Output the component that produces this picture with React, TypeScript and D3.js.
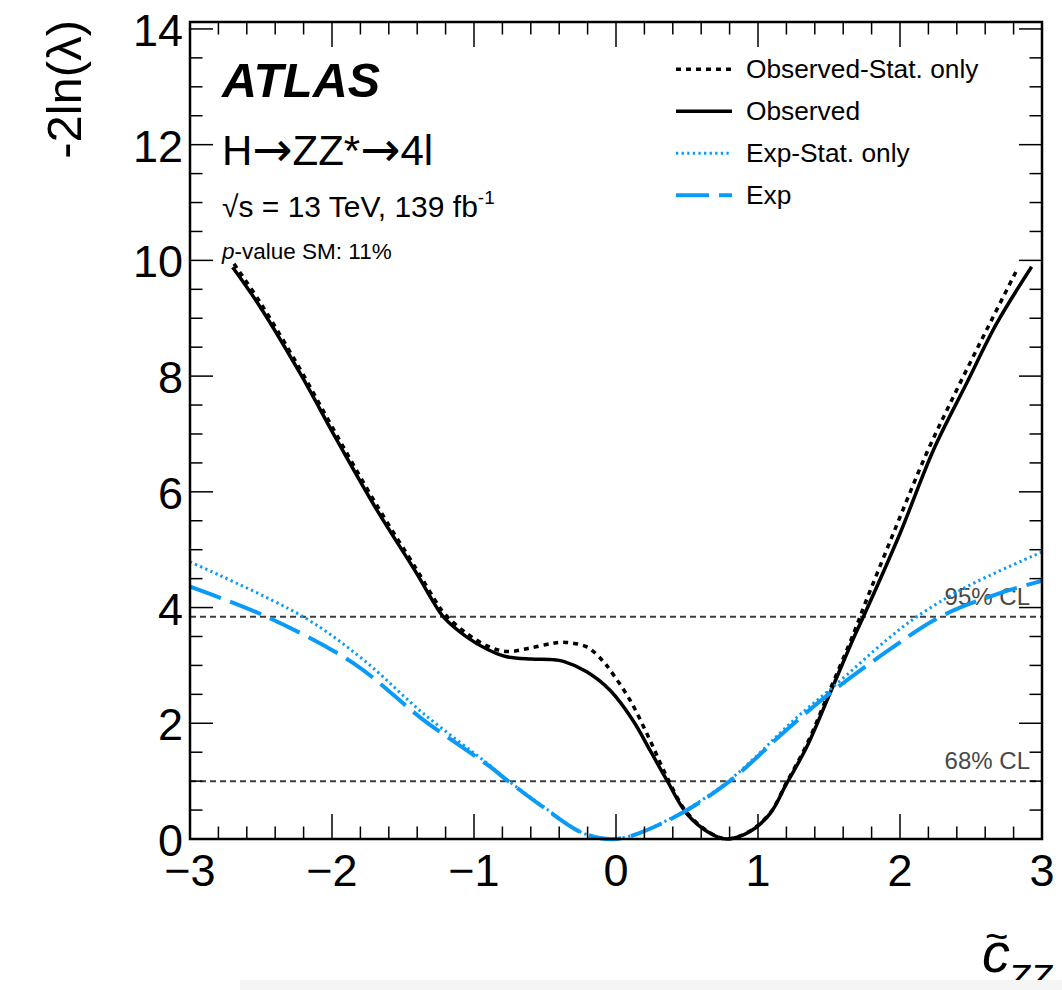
import React from 'react';
import * as d3 from 'd3';

// Observed (solid)
const obsX = [-2.70, -2.507, -2.225, -1.967, -1.697, -1.404, -1.287, -1.216, -1.05, -0.90, -0.77, -0.60, -0.45, -0.37, -0.206, -0.042, 0.122, 0.24, 0.357, 0.498, 0.662, 0.78, 0.944, 1.085, 1.202, 1.343, 1.507, 1.678, 1.742, 2.0, 2.235, 2.47, 2.681, 2.927];
const obsY = [9.88, 9.20, 8.05, 6.90, 5.74, 4.59, 4.10, 3.84, 3.49, 3.27, 3.15, 3.11, 3.10, 3.07, 2.89, 2.57, 2.04, 1.53, 1.02, 0.44, 0.10, 0.0, 0.13, 0.44, 0.96, 1.59, 2.52, 3.50, 3.84, 5.28, 6.72, 7.88, 8.91, 9.89];

// Observed - Stat. only (black dotted)
const obsStatX = [-2.69, -2.50, -2.22, -1.96, -1.69, -1.40, -1.28, -1.21, -1.05, -0.90, -0.77, -0.606, -0.45, -0.371, -0.206, -0.09, -0.042, 0.099, 0.239, 0.357, 0.498, 0.662, 0.78, 0.944, 1.085, 1.202, 1.343, 1.507, 1.678, 1.754, 1.953, 2.188, 2.399, 2.61, 2.822];
const obsStatY = [9.94, 9.25, 8.10, 6.95, 5.79, 4.64, 4.15, 3.90, 3.55, 3.33, 3.24, 3.30, 3.38, 3.40, 3.32, 3.07, 2.92, 2.40, 1.71, 1.08, 0.46, 0.11, 0.0, 0.14, 0.45, 0.98, 1.63, 2.58, 3.58, 4.07, 5.28, 6.67, 7.76, 8.80, 9.83];

// Expected (blue dashed)
const expX = [-3.0, -2.46, -1.85, -1.357, -0.887, -0.77, -0.512, -0.23, 0.0, 0.357, 0.78, 1.202, 1.507, 1.953, 2.282, 2.704, 3.0];
const expY = [4.36, 3.84, 3.04, 2.06, 1.25, 1.02, 0.55, 0.10, 0.0, 0.31, 0.96, 1.89, 2.52, 3.32, 3.84, 4.25, 4.46];

// Expected - Stat. only (blue dotted)
const expStatX = [-3.0, -2.202, -1.78, -1.357, -0.887, -0.77, -0.512, -0.23, 0.0, 0.357, 0.78, 1.202, 1.30, 1.53, 1.906, 2.117, 2.47, 3.0];
const expStatY = [4.79, 3.84, 3.10, 2.17, 1.27, 1.03, 0.56, 0.10, 0.0, 0.32, 0.98, 1.94, 2.16, 2.63, 3.44, 3.84, 4.36, 4.96];

const clLevels = [1.0, 3.84];
const clLabels = ['68% CL', '95% CL'];
const xMajor = [-3, -2, -1, 0, 1, 2, 3];
const yMajor = [0, 2, 4, 6, 8, 10, 12, 14];
const legendLabels = ['Observed-Stat. only', 'Observed', 'Exp-Stat. only', 'Exp'];

const BLUE = '#0a9bf8';
const FONT = '"Liberation Sans", Arial, Helvetica, sans-serif';
const ARROW_FONT = '"DejaVu Sans", sans-serif';

export default function App() {
  const L = 190, R = 1042, T = 22, B = 839;
  const x = d3.scaleLinear().domain([-3, 3]).range([L, R]);
  const y = d3.scaleLinear().domain([0, 14.12]).range([B, T]);

  const mk = (xs: number[], ys: number[]) =>
    d3.line<number>().x((_, i) => x(xs[i])).y((_, i) => y(ys[i])).curve(d3.curveCatmullRom.alpha(0.5))(xs as any) || '';

  const xMinor = d3.range(-3, 3.0001, 0.2).map(v => +v.toFixed(2));
  const yMinor = d3.range(0, 14.0001, 0.5).map(v => +v.toFixed(2));

  const styles = [
    { stroke: '#000', width: 3.5, dash: '5,5' },
    { stroke: '#000', width: 3.5, dash: null },
    { stroke: BLUE, width: 3, dash: '2.3,3.3' },
    { stroke: BLUE, width: 4, dash: '33,10' },
  ];
  const paths = [
    mk(obsStatX, obsStatY),
    mk(obsX, obsY),
    mk(expStatX, expStatY),
    mk(expX, expY),
  ];

  return (
    <svg width={1062} height={990} style={{ position: 'absolute', left: 0, top: 0, background: '#fff' }} fontFamily={FONT}>
      <rect x={0} y={0} width={1062} height={990} fill="#fff" />
      {/* CL lines */}
      {clLevels.map((v, i) => (
        <g key={'cl' + i}>
          <line x1={L} x2={R} y1={y(v)} y2={y(v)} stroke="#3c3c3c" strokeWidth={2} strokeDasharray="6,4" />
          <text x={1030} y={y(v) - 12} textAnchor="end" fontSize={24} fill="#484848">{clLabels[i]}</text>
        </g>
      ))}
      {/* curves */}
      <g>
        {paths.map((d, i) => (
          <path key={'p' + i} d={d} fill="none" stroke={styles[i].stroke} strokeWidth={styles[i].width}
            strokeDasharray={styles[i].dash || undefined} />
        ))}
      </g>
      {/* frame */}
      <rect x={L} y={T} width={R - L} height={B - T} fill="none" stroke="#000" strokeWidth={2.5} />
      {/* x ticks */}
      {xMinor.map((v, i) => {
        const major = xMajor.some(m => Math.abs(m - v) < 1e-6);
        const len = major ? 25 : 12.5;
        return (
          <g key={'xt' + i}>
            <line x1={x(v)} x2={x(v)} y1={B} y2={B - len} stroke="#000" strokeWidth={1.5} />
            <line x1={x(v)} x2={x(v)} y1={T} y2={T + len} stroke="#000" strokeWidth={1.5} />
          </g>
        );
      })}
      {yMinor.map((v, i) => {
        const major = yMajor.some(m => Math.abs(m - v) < 1e-6);
        const len = major ? 23 : 12.5;
        return (
          <g key={'yt' + i}>
            <line x1={L} x2={L + len} y1={y(v)} y2={y(v)} stroke="#000" strokeWidth={1.5} />
            <line x1={R} x2={R - len} y1={y(v)} y2={y(v)} stroke="#000" strokeWidth={1.5} />
          </g>
        );
      })}
      {/* tick labels */}
      {xMajor.map(v => (
        <text key={'xl' + v} x={x(v)} y={886} textAnchor="middle" fontSize={45}>{v < 0 ? '\u2212' + Math.abs(v) : String(v)}</text>
      ))}
      {yMajor.map(v => (
        <text key={'yl' + v} x={183} y={y(v) + 17} textAnchor="end" fontSize={45}>{String(v)}</text>
      ))}
      {/* axis titles */}
      <text transform="translate(81,20) rotate(-90)" textAnchor="end" fontSize={49}>-2ln(λ)</text>
      <text x={982} y={972} fontSize={56} fontStyle="italic">c</text>
      <text x={985} y={950} fontSize={40}>~</text>
      <text x={1008} y={991} fontSize={36} fontStyle="italic">ZZ</text>
      {/* labels */}
      <text x={222} y={97} fontSize={48.5} fontWeight="bold" fontStyle="italic">ATLAS</text>
      <text x={222} y={165} fontSize={42}>H<tspan fontFamily={ARROW_FONT} fontSize={48} dy={1}>→</tspan><tspan dy={-1}>ZZ*</tspan><tspan fontFamily={ARROW_FONT} fontSize={48} dy={1}>→</tspan><tspan dy={-1}>4l</tspan></text>
      <text x={222} y={217} fontSize={30}>√s = 13 TeV, 139 fb<tspan fontSize={19} dy={-13}>-1</tspan></text>
      <text x={222} y={259} fontSize={22.5}><tspan fontStyle="italic">p</tspan>-value SM: 11%</text>
      {/* legend */}
      {legendLabels.map((lab, i) => {
        const ly = 69.3 + i * 42;
        const s = styles[i];
        return (
          <g key={'lg' + i}>
            <line x1={676} x2={732} y1={ly} y2={ly} stroke={s.stroke} strokeWidth={s.width} strokeDasharray={s.dash || undefined} />
            <text x={746} y={ly + 9} fontSize={26.3}>{lab}</text>
          </g>
        );
      })}
      <rect x={240} y={980} width={822} height={10} fill="#f5f5f5" />
    </svg>
  );
}
